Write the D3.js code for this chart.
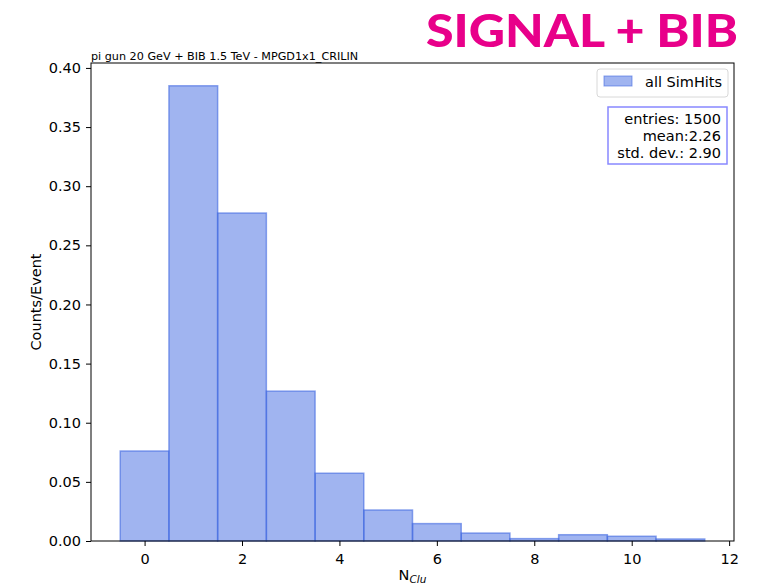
<!DOCTYPE html>
<html><head><meta charset="utf-8">
<script src="https://cdn.jsdelivr.net/npm/d3@7"></script>
<style>body{margin:0;background:#fff;} text{font-family:"DejaVu Sans",sans-serif;}</style>
</head><body><svg id="c" width="762" height="585"></svg>
<script>
const binCenters = [0,1,2,3,4,5,6,7,8,9,10,11];
const counts = [0.0761,0.3849,0.2773,0.1267,0.0573,0.0262,0.0147,0.0067,0.0020,0.0053,0.0040,0.0017];
const xTicks = [0,2,4,6,8,10,12];
const yTicks = [0,0.05,0.10,0.15,0.20,0.25,0.30,0.35,0.40];
const statsLines = ["entries: 1500","mean:2.26","std. dev.: 2.90"];
const legendLabel = "all SimHits";
const subtitle = "pi gun 20 GeV + BIB 1.5 TeV - MPGD1x1_CRILIN";

const svg = d3.select("#c");
const m = {l:91, r:734, t:63, b:541};
const x = d3.scaleLinear().domain([-1.1,12.1]).range([m.l,m.r]);
const y = d3.scaleLinear().domain([0,0.40417]).range([m.b,m.t]);
const fs = 14.5;

// bars
svg.append("g").selectAll("rect").data(binCenters).join("rect")
  .attr("x", d=>x(d-0.5)).attr("width", d=>x(d+0.5)-x(d-0.5))
  .attr("y", (d,i)=>y(counts[i])).attr("height",(d,i)=>y(0)-y(counts[i]))
  .attr("fill","rgba(65,105,225,0.5)").attr("stroke","rgba(65,105,225,0.6)").attr("stroke-width",1.5);

// axes
const xa = svg.append("g").attr("transform",`translate(0,${m.b})`)
  .call(d3.axisBottom(x).tickValues(xTicks).tickFormat(d3.format("d")).tickSize(5).tickPadding(5).tickSizeOuter(0));
const ya = svg.append("g").attr("transform",`translate(${m.l},0)`)
  .call(d3.axisLeft(y).tickValues(yTicks).tickFormat(d3.format(".2f")).tickSize(5).tickPadding(5).tickSizeOuter(0));
[xa,ya].forEach(a=>{a.selectAll("text").attr("font-size",fs).attr("fill","#000").style("font-family","DejaVu Sans");
  a.select(".domain").remove(); a.selectAll("line").attr("stroke","#000").attr("stroke-width",1);});
xa.selectAll("text").attr("dy","0.9em");
// frame
svg.append("rect").attr("x",m.l).attr("y",m.t).attr("width",m.r-m.l).attr("height",m.b-m.t)
  .attr("fill","none").attr("stroke","#000").attr("stroke-width",1);

// labels
svg.append("text").attr("transform",`translate(41,${(m.t+m.b)/2}) rotate(-90)`).attr("text-anchor","middle")
  .attr("font-size",fs).text("Counts/Event");
const xl = svg.append("text").attr("x",(m.l+m.r)/2).attr("y",580).attr("text-anchor","middle").attr("font-size",fs);
xl.append("tspan").text("N");
xl.append("tspan").attr("font-size",10.5).attr("font-style","italic").attr("dy",3).text("Clu");

svg.append("text").attr("x",91).attr("y",60).attr("font-size",11.2).text(subtitle);

svg.append("text").attr("x",738).attr("y",47).attr("text-anchor","end").attr("font-size",46)
  .attr("font-weight","900").attr("fill","#e8008a").style("font-family","Lato, 'Open Sans', sans-serif")
  .attr("textLength",312).attr("lengthAdjust","spacingAndGlyphs").text("SIGNAL + BIB");

// legend
svg.append("rect").attr("x",597).attr("y",69).attr("width",131).attr("height",28).attr("rx",3)
  .attr("fill","#fff").attr("stroke","#d8d8d8");
svg.append("rect").attr("x",604).attr("y",76).attr("width",28).attr("height",10)
  .attr("fill","rgba(65,105,225,0.5)").attr("stroke","rgba(65,105,225,0.6)");
svg.append("text").attr("x",645).attr("y",87).attr("font-size",fs).text(legendLabel);

// stats box
svg.append("rect").attr("x",608).attr("y",107).attr("width",119).attr("height",57)
  .attr("fill","#fff").attr("stroke","#8888ff").attr("stroke-width",1.5);
svg.append("g").selectAll("text").data(statsLines).join("text")
  .attr("x",721).attr("y",(d,i)=>124+i*17).attr("text-anchor","end").attr("font-size",fs).text(d=>d);
</script></body></html>
